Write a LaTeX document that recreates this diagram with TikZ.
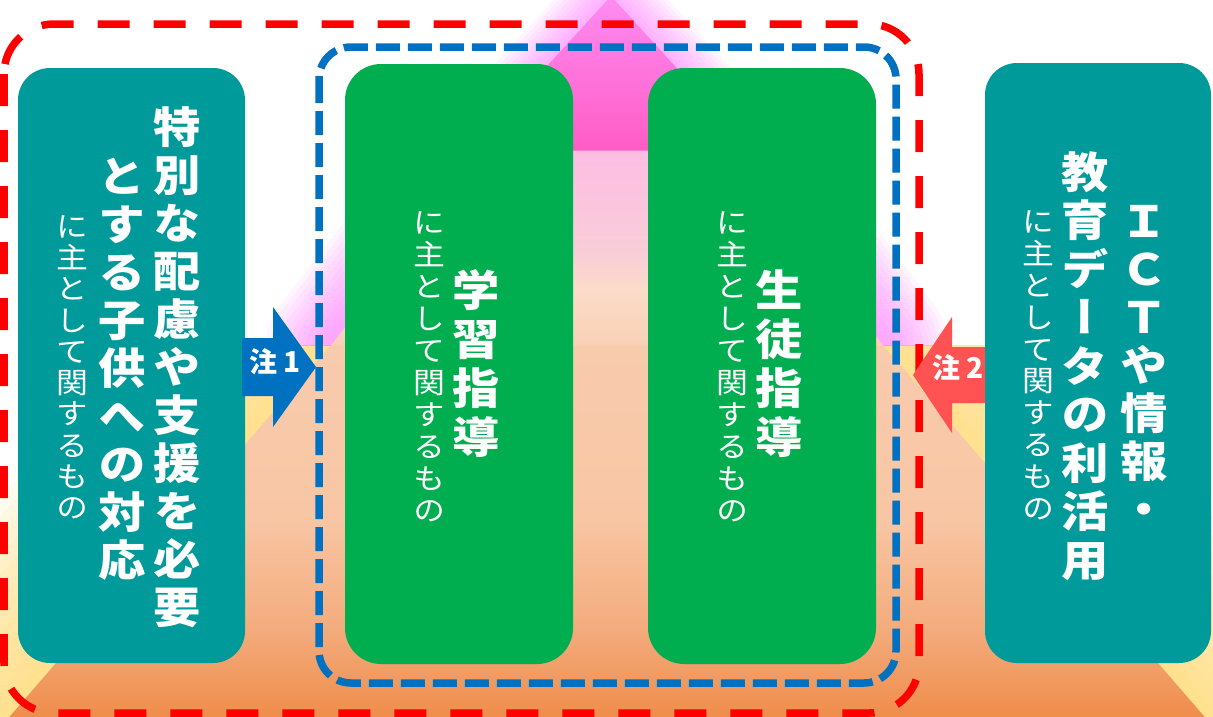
\documentclass[tikz,border=0pt]{standalone}
\usepackage{fontspec}
\usepackage{graphicx}
\newfontfamily\jpf[Script=CJK,RawFeature=+vert]{Noto Sans CJK JP}
\makeatletter
\newcommand\tatetext[2]{\vbox{\offinterlineskip\def\tx@pitch{#1}\tatetext@loop#2\relax}}
\def\tatetext@loop#1{\ifx\relax#1\else\vbox to \tx@pitch{\vss\hbox to 1em{\hss\vrule height .88em depth .12em width 0pt\relax#1\hss}\vss}\expandafter\tatetext@loop\fi}
\makeatother
\definecolor{tealc}{HTML}{009A9A}
\definecolor{greenc}{HTML}{00AD4F}
\definecolor{bluec}{HTML}{0070C0}
\definecolor{redc}{HTML}{FF0000}
\definecolor{arrowred}{HTML}{FF5252}
\definecolor{glowpink}{HTML}{FF7AFF}
\definecolor{glowyel}{HTML}{FFDB70}
\definecolor{lA1}{HTML}{FF8CF2}
\definecolor{lA2}{HTML}{FF5CC4}
\definecolor{lB1}{HTML}{F9D0B6}
\definecolor{lB2}{HTML}{FBDCC8}
\definecolor{lB3}{HTML}{F9CDD8}
\definecolor{lB4}{HTML}{FDBDE3}
\definecolor{lC1}{HTML}{ED7D31}
\definecolor{lC2}{HTML}{EF8C4A}
\definecolor{lC3}{HTML}{F3AB7C}
\definecolor{lC4}{HTML}{F8C6A4}
\definecolor{lC5}{HTML}{F8CBAD}
\pgfdeclareverticalshading{layA}{100bp}{color(0bp)=(lA2); color(25bp)=(lA2); color(75bp)=(lA1); color(100bp)=(lA1)}
\pgfdeclareverticalshading{layB}{100bp}{color(0bp)=(lB1); color(25bp)=(lB1); color(39bp)=(lB2); color(49bp)=(lB3); color(75bp)=(lB4); color(100bp)=(lB4)}
\pgfdeclareverticalshading{layC}{100bp}{color(0bp)=(lC1); color(25bp)=(lC1); color(30bp)=(lC2); color(40.6bp)=(lC3); color(54bp)=(lC4); color(75bp)=(lC5); color(100bp)=(lC5)}
\tikzset{
  bigtxt/.style={inner sep=0pt, text=white, font=\jpf\bfseries\fontsize{43}{43}\selectfont},
  smalltxt/.style={inner sep=0pt, text=white, font=\jpf\fontsize{29}{29}\selectfont},
  notetxt/.style={inner sep=0pt, text=white, font=\jpf\bfseries\fontsize{28}{28}\selectfont},
  tealbox/.style={fill=tealc, rounded corners=32pt},
  greenbox/.style={fill=greenc, rounded corners=36pt},
  reddash/.style={draw=redc, line width=7.5pt, dash pattern=on 32pt off 24pt, rounded corners=50pt},
  bluedash/.style={draw=bluec, line width=7.5pt, dash pattern=on 24pt off 8pt, rounded corners=32pt},
  glowp/.style={draw=glowpink, opacity=.075, line join=round},
  glowy/.style={draw=glowyel, opacity=.11, line join=round},
}
\begin{document}
\begin{tikzpicture}[x=1pt,y=-1pt]
\useasboundingbox (0,0) rectangle (1213,716);
\fill[white] (0,0) rectangle (1213,716);
% glows
\begin{scope}
  \clip (0,345) rectangle (1213,716);
  \foreach \w in {25,50,...,300}
    \draw[glowy, line width=\w pt] (331.1,345) -- (882.9,345) -- (1241.9,760) -- (-27.9,760) -- cycle;
\end{scope}
\begin{scope}
  \clip (0,-60) rectangle (1213,345);
  \foreach \w in {10,20,...,130}{
    \draw[glowp, line width=\w pt] (482,150) -- (738,150) -- (882.9,345) -- (331.1,345) -- cycle;
  }
  \foreach \w in {8,16,...,80}{
    \draw[glowp, line width=\w pt] (611,-4) -- (752,150) -- (470,150) -- cycle;
  }
\end{scope}
% pyramid layers
\shade[shading=layC] (331.1,345) -- (882.9,345) -- (1241.9,760) -- (-27.9,760) -- cycle;
\shade[shading=layB] (482,150) -- (738,150) -- (882.9,345.5) -- (331.1,345.5) -- cycle;
\shade[shading=layA] (611,-4) -- (752,150.5) -- (470,150.5) -- cycle;
% dashed frames
\draw[reddash] (4,24) rectangle (919,713);
\draw[bluedash] (319,47) rectangle (896,683);
% boxes
\fill[tealbox] (18,68) rectangle (245,663);
\fill[tealbox] (985,63) rectangle (1211,663);
\fill[greenbox] (345,64) rectangle (573,664);
\fill[greenbox] (648,68) rectangle (876,664);
% arrows
\fill[bluec] (242,338) -- (273,338) -- (273,307) -- (316,367) -- (273,427) -- (273,396) -- (242,396) -- cycle;
\fill[arrowred] (985,347) -- (952,347) -- (952,317) -- (913,375) -- (952,433) -- (952,403) -- (985,403) -- cycle;
\node[notetxt] (n1) at (275,362) {注\hspace{6pt}1};
\node[notetxt] (n2) at (958,368) {注\hspace{6pt}2};
% left teal texts
\node[bigtxt] (l1) at (177,367) {\scalebox{1.1}[1]{\tatetext{48pt}{特別な配慮や支援を必要}}};
\node[bigtxt] (l2) at (122,368) {\scalebox{1.1}[1]{\tatetext{48pt}{とする子供への対応}}};
\node[smalltxt] (l3) at (72,367) {\scalebox{1.1}[1]{\tatetext{31.3pt}{に主として関するもの}}};
% green 1
\node[bigtxt] (g1) at (476,363.5) {\scalebox{1.1}[1]{\tatetext{49pt}{学習指導}}};
\node[smalltxt] (g1s) at (429,366) {\scalebox{1.1}[1]{\tatetext{32pt}{に主として関するもの}}};
% green 2
\node[bigtxt] (g2) at (779,363.5) {\scalebox{1.1}[1]{\tatetext{49pt}{生徒指導}}};
\node[smalltxt] (g2s) at (732,366) {\scalebox{1.1}[1]{\tatetext{32pt}{に主として関するもの}}};
% right teal
\node[bigtxt] (r1) at (1144,365.5) {\scalebox{1.1}[1]{\tatetext{48pt}{ＩＣＴや情報・}}};
\node[bigtxt] (r2) at (1085,366) {\scalebox{1.1}[1]{\tatetext{48.5pt}{教育データの利活用}}};
\node[smalltxt] (r3) at (1038,365) {\scalebox{1.1}[1]{\tatetext{31.8pt}{に主として関するもの}}};
\end{tikzpicture}
\end{document}
